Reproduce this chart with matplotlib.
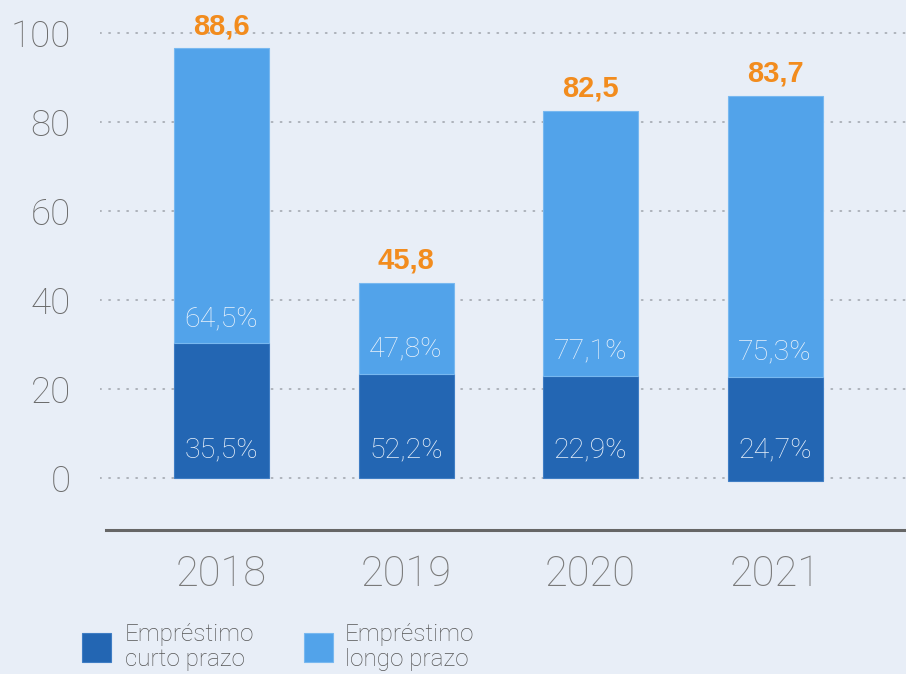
import matplotlib
matplotlib.use("Agg")
import matplotlib.pyplot as plt

# ---- data ----
years = ["2018", "2019", "2020", "2021"]
curto = [30.3, 23.4, 23.0, 23.4]        # drawn height of short-term segment
longo = [66.3, 20.5, 59.5, 63.1]        # drawn height of long-term segment
base = [0.0, 0.0, 0.0, -0.6]
totais = ["88,6", "45,8", "82,5", "83,7"]
pct_curto = ["35,5%", "52,2%", "22,9%", "24,7%"]
pct_longo = ["64,5%", "47,8%", "77,1%", "75,3%"]
yticks = [0, 20, 40, 60, 80, 100]
legend_labels = ["Empréstimo\ncurto prazo", "Empréstimo\nlongo prazo"]

BG = "#E8EEF7"
DARK = "#2366B3"
LIGHT = "#52A3EA"
ORANGE = "#F28C1E"
GRAY = "#6B6B6B"
LIGHTFONT = ["Roboto", "DejaVu Sans"]

W, H = 906, 674
fig = plt.figure(figsize=(W / 100, H / 100), dpi=100, facecolor=BG)

px_per_unit = 4.45
y0 = 478.3
axis_y = 530
ax_left, ax_right = 100, 906
ax = fig.add_axes([ax_left / W, (H - axis_y) / H, (ax_right - ax_left) / W, axis_y / H])
ax.set_facecolor(BG)
ax.set_ylim((y0 - axis_y) / px_per_unit, y0 / px_per_unit)
c0, step = 221.5, 184.5
ax.set_xlim((ax_left - c0) / step, (ax_right - c0) / step)

for s in ["top", "right", "left"]:
    ax.spines[s].set_visible(False)
ax.spines["bottom"].set_color("#666666")
ax.spines["bottom"].set_linewidth(2.2)
ax.spines["bottom"].set_bounds((106 - c0) / step, (ax_right - c0) / step)

# dotted gridlines
for t in yticks:
    ax.axhline(t, color="#A8ADB5", lw=1.3, linestyle=(0, (0.6, 4.4)),
               dash_capstyle="round", zorder=0)

ax.set_yticks(yticks)
ax.set_yticklabels([str(t) for t in yticks], fontsize=26.5, color=GRAY,
                   family=LIGHTFONT, fontweight="light")
ax.tick_params(axis="y", length=0, pad=21)
ax.set_xticks([])

x = list(range(len(years)))
bw = 95 / step
ax.bar(x, curto, width=bw, bottom=base, color=DARK, edgecolor="#3F7DC4",
       linewidth=0.8, zorder=2)
tops1 = [b + c for b, c in zip(base, curto)]
ax.bar(x, longo, width=bw, bottom=tops1, color=LIGHT, edgecolor="#78B8F0",
       linewidth=0.8, zorder=2)

for i in x:
    top = tops1[i] + longo[i]
    ax.annotate(totais[i], (i, top), xytext=(0, 16), textcoords="offset points",
                ha="center", va="center", fontsize=21, fontweight="bold",
                color=ORANGE, family=["Liberation Sans", "DejaVu Sans"])
    ax.annotate(pct_longo[i], (i, tops1[i]), xytext=(0, 18), textcoords="offset points",
                ha="center", va="center", fontsize=20.5, color="#EAF2FB",
                family=LIGHTFONT, fontweight="light")
    ax.annotate(pct_curto[i], (i, 0), xytext=(0, 20.5), textcoords="offset points",
                ha="center", va="center", fontsize=20.5, color="#EAF2FB",
                family=LIGHTFONT, fontweight="light")
    ax.text(i, (y0 - 575) / px_per_unit, years[i], ha="center", va="center",
            fontsize=30, color="#7A7A7A", family=LIGHTFONT, fontweight="light",
            clip_on=False)

# legend
for (sx, tx), lab, col, ec in zip([(82, 125), (304, 345)], legend_labels,
                                  [DARK, LIGHT], ["#3F7DC4", "#78B8F0"]):
    fig.patches.append(plt.Rectangle((sx / W, (H - 662) / H), 29 / W, 29 / H,
                                     transform=fig.transFigure, facecolor=col,
                                     edgecolor=ec, linewidth=0.8))
    fig.text(tx / W, (H - 647) / H, lab, ha="left", va="center", fontsize=17.5,
             color="#555555", family=LIGHTFONT, fontweight="light",
             linespacing=1.15)

fig.savefig("out.png", dpi=100, facecolor=BG)
